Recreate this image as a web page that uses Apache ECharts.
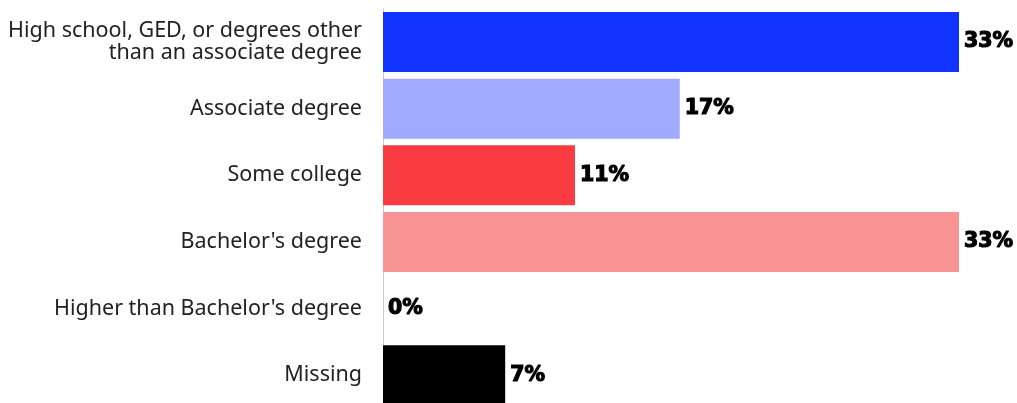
<!DOCTYPE html>
<html><head><meta charset="utf-8">
<script src="https://cdn.jsdelivr.net/npm/echarts@6/dist/echarts.min.js"></script>
<style>html,body{margin:0;padding:0;background:#fff}#c{width:1017px;height:403px}</style>
</head><body><div id="c"></div>
<script>
const categories = ["High school, GED, or degrees other\nthan an associate degree","Associate degree","Some college","Bachelor's degree","Higher than Bachelor's degree","Missing"];
const values = [33, 17, 11, 33, 0, 7];
const colors = ["#1033FF","#A0AAFF","#F83C41","#F99494","#F99494","#000000"];
const chart = echarts.init(document.getElementById('c'), null, {renderer:'canvas'});
chart.setOption({
  animation:false,
  grid:{left:383, top:8.7, width:576, height:400, containLabel:false, outerBoundsMode:'none'},
  xAxis:{type:'value', min:0, max:33, show:false},
  yAxis:{type:'category', data:categories, inverse:true,
    axisLine:{show:true, lineStyle:{color:'#cccccc', width:1}},
    axisTick:{show:false},
    axisLabel:{margin:21, fontFamily:'Noto Sans', fontSize:21.5, color:'#222', lineHeight:22, align:'right'}},
  series:[{type:'bar', barCategoryGap:'10%',
    data: values.map((v,i)=>({value:v, itemStyle:{color:colors[i]}})),
    label:{show:true, position:'right', distance:5, formatter:'{c}%', fontFamily:'DejaVu Sans', fontWeight:'bold', fontSize:20.5, color:'#000', textBorderColor:'#000', textBorderWidth:1.2}
  }]
});
</script></body></html>
